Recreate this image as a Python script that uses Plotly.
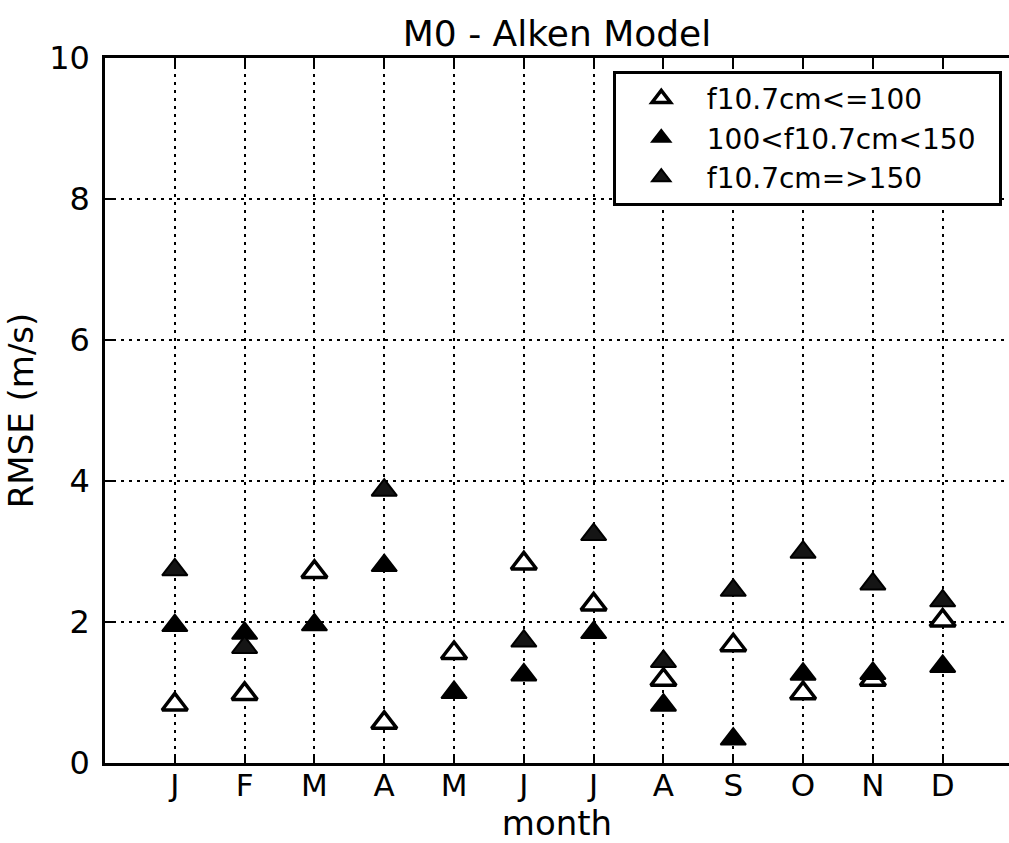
import plotly.graph_objects as go

# Monthly RMSE of the M0 (Alken) model, split by solar flux level
month_pos = [1, 2, 3, 4, 5, 6, 7, 8, 9, 10, 11, 12]
month_labels = ["J", "F", "M", "A", "M", "J", "J", "A", "S", "O", "N", "D"]

rmse_low = [0.83, 0.98, 2.71, 0.57, 1.56, 2.83, 2.25, 1.18, 1.67, 0.99, 1.18, 2.02]
rmse_mid = [1.95, 1.84, 1.96, 2.80, 1.00, 1.25, 1.85, 0.82, 0.34, 1.26, 1.27, 1.37]
rmse_high = [2.74, 1.64, None, 3.87, None, 1.73, 3.24, 1.44, 2.45, 2.99, 2.54, 2.30]

series_names = ["f10.7cm<=100", "100<f10.7cm<150", "f10.7cm=>150"]
series_fill = ["white", "black", "#151515"]
series_edge = [3.5, 2, 2]

FONT = "DejaVu Sans"
PAD = "\u00a0\u00a0"  # keeps some room between the labels and the legend frame

fig = go.Figure()
for name, vals, fill, edge in zip(series_names, [rmse_low, rmse_mid, rmse_high],
                                  series_fill, series_edge):
    fig.add_trace(go.Scatter(
        x=month_pos, y=vals, mode="markers", name=name + PAD,
        marker=dict(symbol="triangle-up", size=22, color=fill,
                    line=dict(color="black", width=edge)),
    ))

grid_style = dict(showgrid=True, gridcolor="black", gridwidth=1.8, griddash="3px,5px",
                  showline=True, linecolor="black", linewidth=2.5,
                  ticks="inside", ticklen=8, tickwidth=2, tickcolor="black",
                  zeroline=False)

fig.update_xaxes(range=[0, 12.95], tickvals=month_pos, ticktext=month_labels,
                 mirror="ticks", ticklabelstandoff=-7,
                 tickfont=dict(family=FONT, size=31, color="black"),
                 title=dict(text="month", font=dict(family=FONT, size=34, color="black"),
                            standoff=10),
                 **grid_style)
fig.update_yaxes(range=[0, 10], tickvals=[0, 2, 4, 6, 8, 10], ticklabelstandoff=6,
                 mirror=False,
                 tickfont=dict(family=FONT, size=32, color="black"),
                 title=dict(text="RMSE (m/s)", font=dict(family=FONT, size=34, color="black"),
                            standoff=6),
                 **grid_style)

fig.update_layout(
    width=1009, height=843,
    margin=dict(l=105, r=0, t=58, b=80, autoexpand=False),
    paper_bgcolor="white", plot_bgcolor="white",
    title=dict(text="M0 - Alken Model", x=(557 / 1009), xanchor="center",
               y=1 - 33 / 843, yanchor="middle",
               font=dict(family=FONT, size=36, color="black")),
    legend=dict(x=0.992, y=0.982, xanchor="right", yanchor="top",
                bgcolor="white", bordercolor="black", borderwidth=3,
                font=dict(family=FONT, size=28, color="black"),
                itemwidth=81),
    showlegend=True,
)

fig.write_html("out.html")
